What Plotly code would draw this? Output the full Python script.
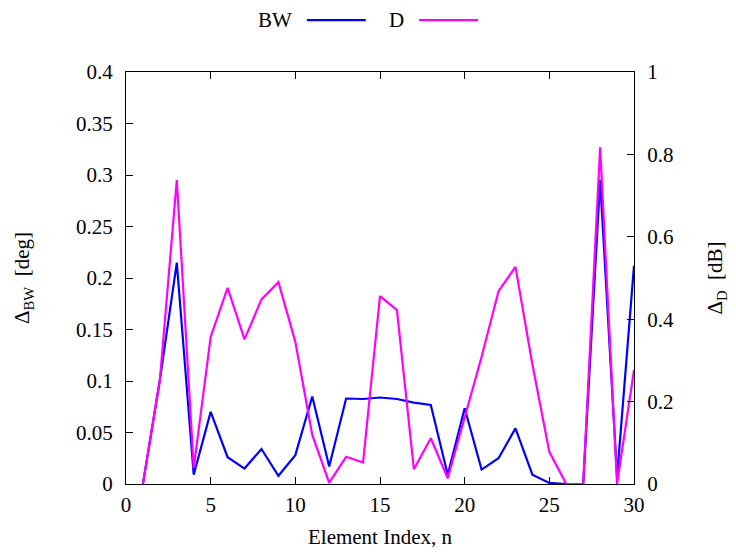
import plotly.graph_objects as go

n = list(range(1, 31))
bw = [0.0, 0.101, 0.215, 0.009, 0.070, 0.026, 0.015, 0.034, 0.008, 0.028,
      0.085, 0.017, 0.083, 0.0825, 0.084, 0.0825, 0.079, 0.0767, 0.009, 0.0735,
      0.014, 0.025, 0.054, 0.009, 0.001, 0.0, 0.0, 0.295, 0.007, 0.212]
d = [0.0, 0.252, 0.738, 0.039, 0.357, 0.476, 0.351, 0.448, 0.49, 0.345,
     0.119, 0.003, 0.066, 0.052, 0.456, 0.422, 0.036, 0.111, 0.014, 0.16,
     0.309, 0.468, 0.527, 0.29, 0.078, 0.0, 0.0, 0.817, 0.0, 0.277]

x_ticks = [0, 5, 10, 15, 20, 25, 30]
y1_ticks = [0, 0.05, 0.1, 0.15, 0.2, 0.25, 0.3, 0.35, 0.4]
y1_labels = ["0", "0.05", "0.1", "0.15", "0.2", "0.25", "0.3", "0.35", "0.4"]
y2_ticks = [0, 0.2, 0.4, 0.6, 0.8, 1.0]
y2_labels = ["0", "0.2", "0.4", "0.6", "0.8", "1"]

BLUE = "#0000ff"
MAG = "#ff00ff"
FONT = "'Liberation Serif', 'Times New Roman', 'DejaVu Serif', serif"
FS = 21

fig = go.Figure()
fig.add_trace(go.Scatter(x=n, y=bw, mode="lines", name="BW",
                         line=dict(color=BLUE, width=2.2), yaxis="y", cliponaxis=True))
fig.add_trace(go.Scatter(x=n, y=d, mode="lines", name="D",
                         line=dict(color=MAG, width=2.2), yaxis="y2", cliponaxis=True))

axis_common = dict(showgrid=False, zeroline=False, showline=True, linecolor="black",
                   linewidth=1, ticks="inside", ticklen=7, tickcolor="black",
                   tickfont=dict(family=FONT, size=FS, color="black"))

fig.update_layout(
    width=736, height=552,
    margin=dict(l=118, r=110, t=64, b=76),
    paper_bgcolor="white", plot_bgcolor="white",
    showlegend=False,
    font=dict(family=FONT, size=FS, color="black"),
    xaxis=dict(range=[0, 30], tickvals=x_ticks, mirror="ticks", ticklabelstandoff=2,
               title=dict(text="Element Index, n", font=dict(family=FONT, size=FS), standoff=13),
               **axis_common),
    yaxis=dict(range=[0, 0.4], tickvals=y1_ticks, ticktext=y1_labels, mirror=True,
               ticklabelstandoff=8,
               title=dict(text="Δ<sub>BW</sub>  [deg]", font=dict(family=FONT, size=FS), standoff=40),
               **axis_common),
    yaxis2=dict(range=[0, 1.0], tickvals=y2_ticks, ticktext=y2_labels, overlaying="y",
                side="right", ticklabelstandoff=8,
                title=dict(text="Δ<sub>D</sub>  [dB]", font=dict(family=FONT, size=FS), standoff=34),
                **axis_common),
)

# legend drawn at top: label followed by line sample
legend_items = [("BW", BLUE, 0.293, 0.356, 0.472), ("D", MAG, 0.533, 0.577, 0.693)]
for label, color, tx, x0, x1 in legend_items:
    fig.add_annotation(text=label, xref="paper", yref="paper", x=tx, y=1.126,
                       showarrow=False, font=dict(family=FONT, size=FS, color="black"),
                       xanchor="center", yanchor="middle")
    fig.add_shape(type="line", xref="paper", yref="paper", x0=x0, x1=x1,
                  y0=1.126, y1=1.126, line=dict(color=color, width=2.2))

fig.write_html("out.html")
